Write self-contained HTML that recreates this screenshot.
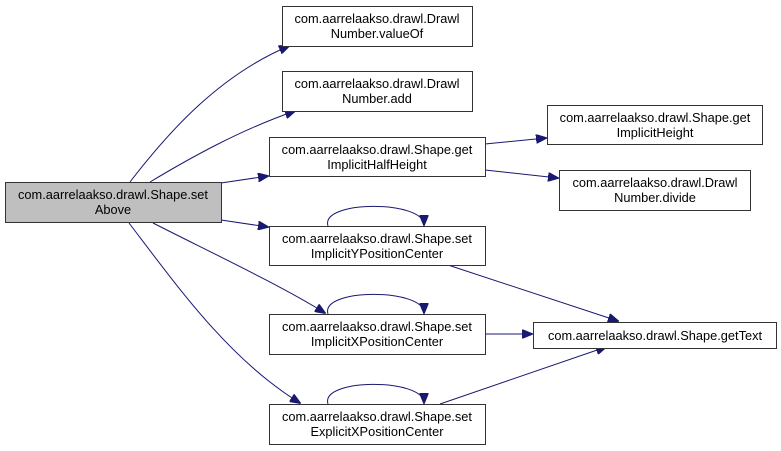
<!DOCTYPE html>
<html><head><style>
body{margin:0;background:#fff;}
svg{display:block;}
text{font-family:"Liberation Sans",Helvetica,sans-serif;font-size:12.8px;fill:#000;text-anchor:middle;}
rect{fill:#fff;stroke:#333;stroke-width:1;}
path.e{fill:none;stroke:#191970;stroke-width:1;}
</style></head><body>
<svg width="781" height="451" viewBox="0 0 781 451" xmlns="http://www.w3.org/2000/svg">
<defs><marker id="a" markerWidth="11" markerHeight="9" refX="10" refY="4.5" orient="auto" markerUnits="userSpaceOnUse"><path d="M0,0 L11,4.5 L0,9 Z" fill="#191970" stroke="#191970"/></marker></defs>
<path class="e" marker-end="url(#a)" d="M130,182 C170,130 220,75 289,46"/>
<path class="e" marker-end="url(#a)" d="M150,182 C190,158 240,130 295,111"/>
<path class="e" marker-end="url(#a)" d="M221,183 L268,176"/>
<path class="e" marker-end="url(#a)" d="M221,220 L268,227"/>
<path class="e" marker-end="url(#a)" d="M153,223 C210,252 280,285 325,313"/>
<path class="e" marker-end="url(#a)" d="M129,223 C180,290 230,360 300,403"/>
<path class="e" marker-end="url(#a)" d="M328,226 C320,200 424,200 424,225"/>
<path class="e" marker-end="url(#a)" d="M328,314 C320,288 424,288 424,313"/>
<path class="e" marker-end="url(#a)" d="M328,404 C320,378 424,378 424,403"/>
<path class="e" marker-end="url(#a)" d="M448,265 L618,321"/>
<path class="e" marker-end="url(#a)" d="M485,334 L532,334"/>
<path class="e" marker-end="url(#a)" d="M440,404 L606,347"/>
<path class="e" marker-end="url(#a)" d="M485,144 L546,138"/>
<path class="e" marker-end="url(#a)" d="M485,170 L558,178"/>
<rect x="5.5" y="182.5" width="216" height="40" style="fill:#bfbfbf"/>
<text x="113" y="199">com.aarrelaakso.drawl.Shape.set</text><text x="113" y="214">Above</text>
<rect x="282.5" y="6.5" width="190" height="40"/>
<text x="377" y="23">com.aarrelaakso.drawl.Drawl</text><text x="377" y="38">Number.valueOf</text>
<rect x="282.5" y="71.5" width="190" height="40"/>
<text x="377" y="88">com.aarrelaakso.drawl.Drawl</text><text x="377" y="103">Number.add</text>
<rect x="269.5" y="137.5" width="216" height="39"/>
<text x="377" y="154">com.aarrelaakso.drawl.Shape.get</text><text x="377" y="169">ImplicitHalfHeight</text>
<rect x="269.5" y="226.5" width="216" height="39"/>
<text x="377" y="243">com.aarrelaakso.drawl.Shape.set</text><text x="377" y="258">ImplicitYPositionCenter</text>
<rect x="269.5" y="314.5" width="216" height="40"/>
<text x="377" y="331">com.aarrelaakso.drawl.Shape.set</text><text x="377" y="346">ImplicitXPositionCenter</text>
<rect x="269.5" y="404.5" width="216" height="40"/>
<text x="377" y="421">com.aarrelaakso.drawl.Shape.set</text><text x="377" y="436">ExplicitXPositionCenter</text>
<rect x="547.5" y="105.5" width="215" height="39"/>
<text x="655" y="122">com.aarrelaakso.drawl.Shape.get</text><text x="655" y="137">ImplicitHeight</text>
<rect x="559.5" y="170.5" width="191" height="40"/>
<text x="655" y="187">com.aarrelaakso.drawl.Drawl</text><text x="655" y="202">Number.divide</text>
<rect x="533.5" y="322.5" width="243" height="26"/>
<text x="655" y="340">com.aarrelaakso.drawl.Shape.getText</text>
</svg>
</body></html>
